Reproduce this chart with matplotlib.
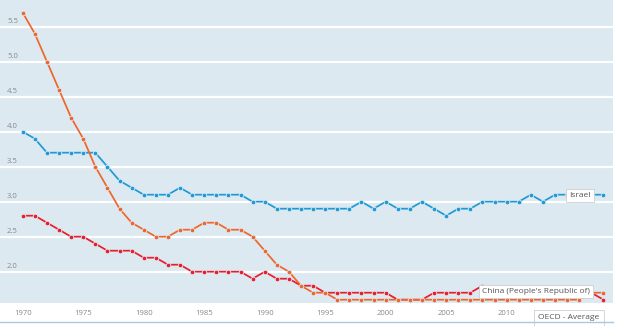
import matplotlib
matplotlib.use("Agg")
import matplotlib.pyplot as plt

plt.rcParams['font.family'] = ['Open Sans', 'DejaVu Sans']

years = list(range(1970, 2019))

china = [5.7, 5.4, 5.0, 4.6, 4.2, 3.9, 3.5, 3.2, 2.9, 2.7,
         2.6, 2.5, 2.5, 2.6, 2.6, 2.7, 2.7, 2.6, 2.6, 2.5,
         2.3, 2.1, 2.0, 1.8, 1.7, 1.7, 1.6, 1.6, 1.6, 1.6,
         1.6, 1.6, 1.6, 1.6, 1.6, 1.6, 1.6, 1.6, 1.6, 1.6,
         1.6, 1.6, 1.6, 1.6, 1.6, 1.6, 1.6, 1.7, 1.7]

oecd = [2.8, 2.8, 2.7, 2.6, 2.5, 2.5, 2.4, 2.3, 2.3, 2.3,
        2.2, 2.2, 2.1, 2.1, 2.0, 2.0, 2.0, 2.0, 2.0, 1.9,
        2.0, 1.9, 1.9, 1.8, 1.8, 1.7, 1.7, 1.7, 1.7, 1.7,
        1.7, 1.6, 1.6, 1.6, 1.7, 1.7, 1.7, 1.7, 1.8, 1.7,
        1.7, 1.7, 1.7, 1.7, 1.7, 1.7, 1.7, 1.7, 1.6]

israel = [4.0, 3.9, 3.7, 3.7, 3.7, 3.7, 3.7, 3.5, 3.3, 3.2,
          3.1, 3.1, 3.1, 3.2, 3.1, 3.1, 3.1, 3.1, 3.1, 3.0,
          3.0, 2.9, 2.9, 2.9, 2.9, 2.9, 2.9, 2.9, 3.0, 2.9,
          3.0, 2.9, 2.9, 3.0, 2.9, 2.8, 2.9, 2.9, 3.0, 3.0,
          3.0, 3.0, 3.1, 3.0, 3.1, 3.1, 3.1, 3.1, 3.1]

xticks = [1970, 1975, 1980, 1985, 1990, 1995, 2000, 2005, 2010]
yticks = [2.0, 2.5, 3.0, 3.5, 4.0, 4.5, 5.0, 5.5]

bg = '#dce9f1'
c_orange = '#f0652a'
c_red = '#ea1d2c'
c_blue = '#1f9ad6'

fig = plt.figure(figsize=(6.2, 3.26), dpi=100)
ax = fig.add_axes([0, 23 / 326, 613 / 620, 303 / 326])
ax.set_facecolor(bg)
ax.set_xlim(1968.12, 2018.79)
ax.set_ylim(1.553, 5.881)

for v in yticks:
    ax.axhline(v, color='white', lw=1.6, zorder=1)
    ax.text(1968.7, v + 0.03, f"{v:.1f}", fontsize=5.6, color='#8a8a8a',
            ha='left', va='bottom', zorder=2)

for data, col in [(israel, c_blue), (oecd, c_red), (china, c_orange)]:
    ax.plot(years, data, color=col, lw=1.25, marker='o', ms=3.3,
            mfc=col, mec=bg, mew=0.6, zorder=3, clip_on=False)

for s in ax.spines.values():
    s.set_visible(False)
ax.set_yticks([])
ax.set_xticks(xticks)
ax.set_xticklabels([str(t) for t in xticks], fontsize=5.6, color='#8a8a8a')
ax.tick_params(axis='x', length=0, pad=5)

box = dict(boxstyle='square,pad=0.35', fc='white', ec='#cfcfcf', lw=0.6)
ax.text(2016.06, 3.09, "Israel", fontsize=6.0, color='#555555', ha='center',
        va='center', bbox=box, zorder=5)
ax.text(2012.45, 1.72, "China (People's Republic of)", fontsize=6.0,
        color='#555555', ha='center', va='center', bbox=box, zorder=5)
ax.text(2015.15, 1.34, "OECD - Average", fontsize=6.0, color='#555555',
        ha='center', va='center', bbox=dict(boxstyle='square,pad=0.5',
        fc='white', ec='#cfcfcf', lw=0.6), zorder=5, clip_on=False)

fig.add_artist(plt.Line2D([0, 613 / 620], [4.5 / 326, 4.5 / 326],
                          color='#a9c9e0', lw=1.0))

fig.savefig('out.png', dpi=100, facecolor='white')
